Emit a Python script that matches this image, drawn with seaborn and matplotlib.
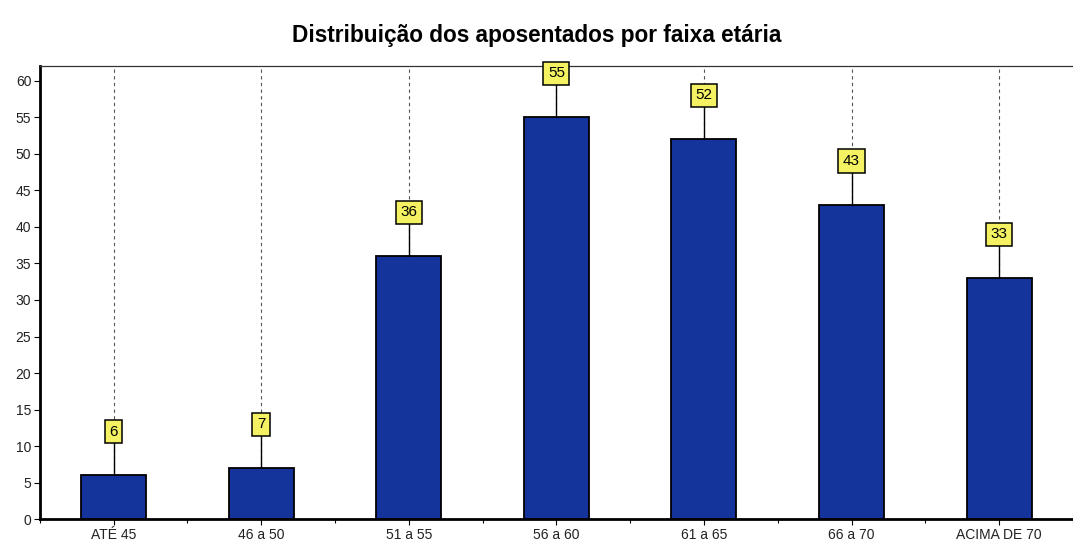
import matplotlib
matplotlib.use("Agg")
import matplotlib.pyplot as plt
import seaborn as sns
import pandas as pd

categories = ["ATÉ 45", "46 a 50", "51 a 55", "56 a 60", "61 a 65", "66 a 70", "ACIMA DE 70"]
values = [6, 7, 36, 55, 52, 43, 33]
yticks = list(range(0, 61, 5))

sns.set_theme(style="white")
plt.rcParams['font.family'] = ['Liberation Sans', 'DejaVu Sans']
plt.rcParams['text.color'] = 'black'
plt.rcParams['xtick.color'] = 'black'
plt.rcParams['ytick.color'] = 'black'

df = pd.DataFrame({"faixa": categories, "n": values})

fig = plt.figure(figsize=(10.73, 5.41), dpi=100)
ax = fig.add_axes([0.037, 0.04, 0.963, 0.838])

for i in range(len(categories)):
    ax.axvline(i, color="#555555", lw=0.8, ls=(0, (3, 3)), zorder=0)

sns.barplot(data=df, x="faixa", y="n", color="#14339b", saturation=1,
            width=0.44, edgecolor="black", linewidth=1.3, ax=ax, zorder=2)

for i, v in enumerate(values):
    ytxt = v + 6
    ax.plot([i, i], [v, ytxt], color="black", lw=1, zorder=3)
    ax.text(i, ytxt, str(v), ha="center", va="center", fontsize=11, zorder=4,
            bbox=dict(boxstyle="square,pad=0.3", fc="#f4f263", ec="black", lw=1.1))

ax.set_xlim(-0.49, 6.42)
ax.set_ylim(0, 62)
ax.set_yticks(yticks)
ax.set_xlabel("")
ax.set_ylabel("")
ax.tick_params(axis="both", labelsize=10, length=4, width=0.8, color="black", direction="out",
               left=True, bottom=True, pad=2, labelcolor="#222222")
ax.set_xticks(range(len(categories)))
ax.set_xticklabels(categories)
ax.set_xticks([i + 0.5 for i in range(-1, len(categories))], minor=True)
ax.tick_params(axis="x", which="minor", length=3, width=0.8, bottom=True)

for s in ["left", "bottom"]:
    ax.spines[s].set_linewidth(2)
    ax.spines[s].set_color("black")
ax.spines["top"].set_linewidth(0.9)
ax.spines["top"].set_color("#333333")
ax.spines["right"].set_visible(False)

fig.suptitle("Distribuição dos aposentados por faixa etária", fontsize=16.3, fontweight="bold",
             x=0.5, y=0.955, color="black")

fig.savefig("out.png", dpi=100)
